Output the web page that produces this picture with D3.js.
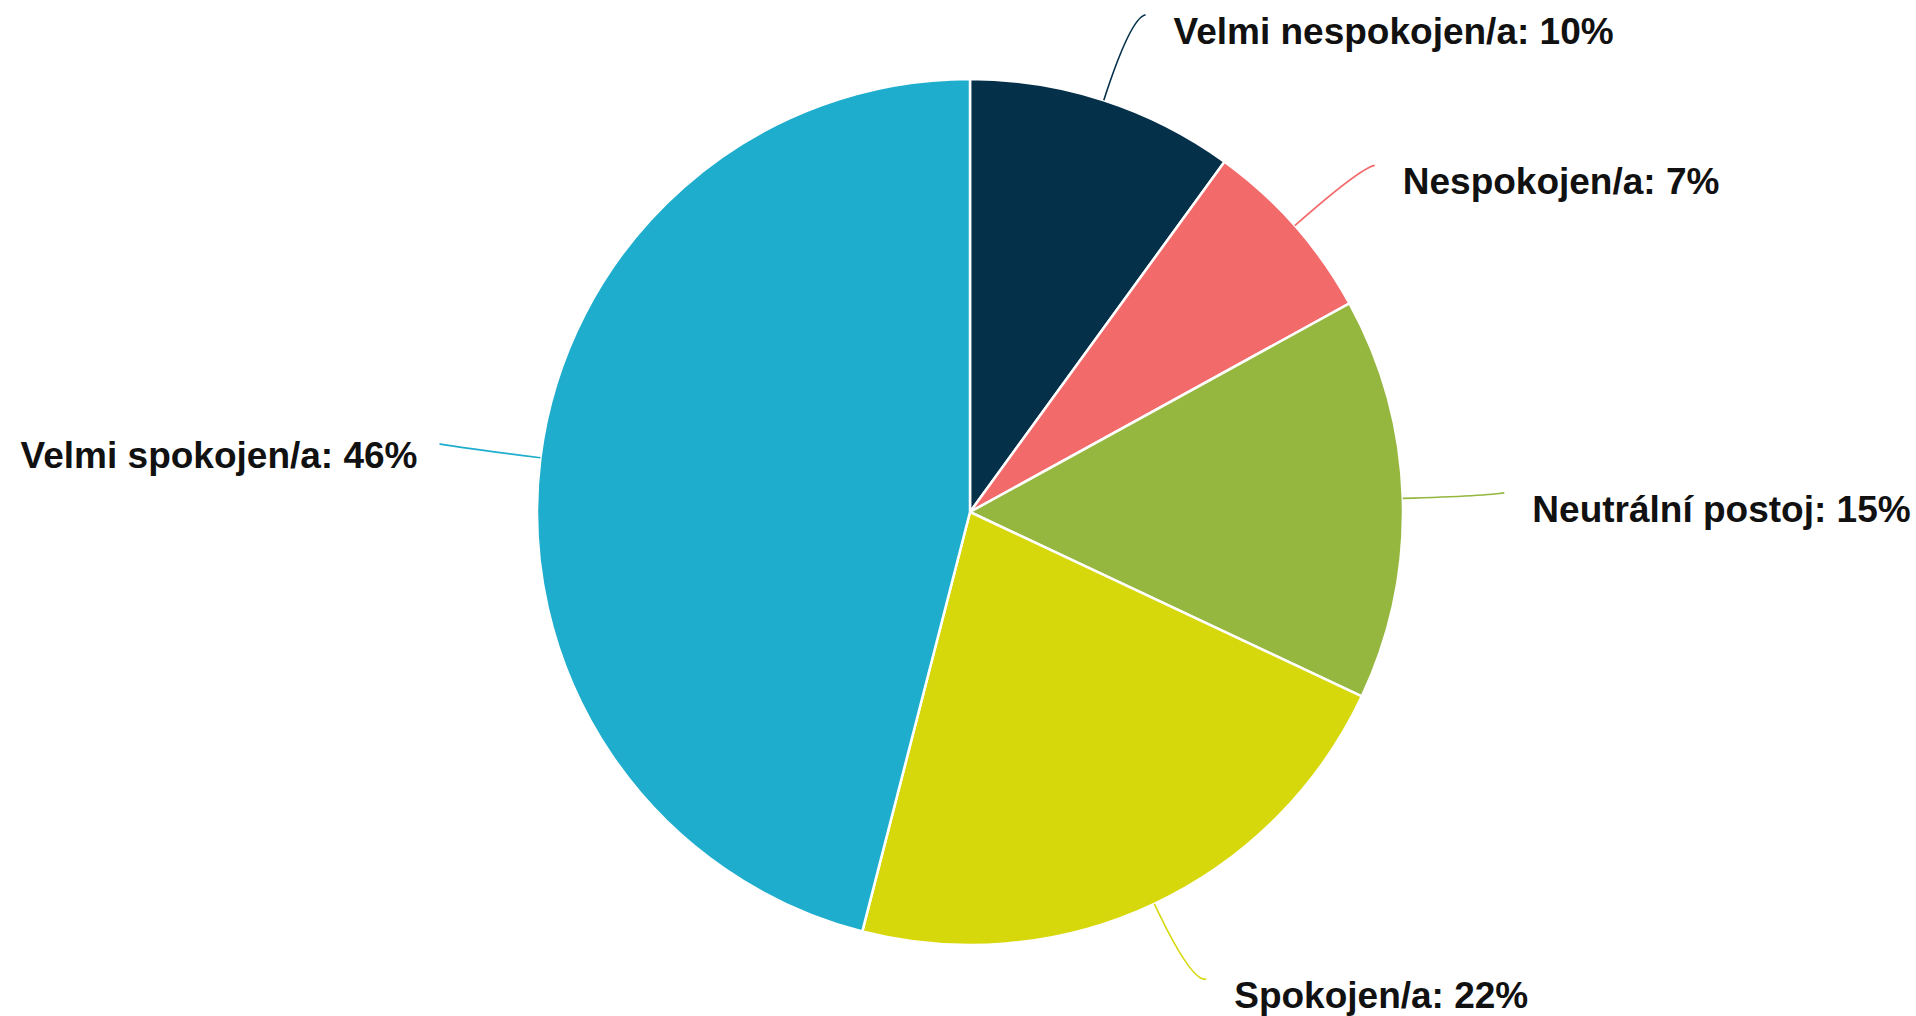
<!DOCTYPE html>
<html>
<head>
<meta charset="utf-8">
<script src="https://cdn.jsdelivr.net/npm/d3@7"></script>
<style>
  body { margin: 0; background: #fff; }
  text { font-family: "Liberation Sans", Arial, sans-serif; font-weight: bold; }
</style>
</head>
<body>
<svg id="pieSvg" width="1916" height="1016"></svg>
<script>
// chart data
var categories = ["Velmi nespokojen/a", "Nespokojen/a", "Neutrální postoj", "Spokojen/a", "Velmi spokojen/a"];
var values = [10, 7, 15, 22, 46];
var colors = ["#05304a", "#f36a6b", "#95b73f", "#d7d80c", "#1eadcd"];

var data = categories.map(function (c, i) {
  return { name: c, value: values[i] };
});

var svg = d3.select("svg#pieSvg"),
  cx = 970,
  cy = 512,
  radius = 433,
  g = svg.append("g").attr("transform", "translate(" + cx + "," + cy + ")");

var color = d3.scaleOrdinal().domain(categories).range(colors);

// keep the data order, clockwise from 12 o'clock
var pie = d3.pie().sort(null).value(function (d) { return d.value; });

var arc = d3.arc().innerRadius(0).outerRadius(radius);

var arcs = pie(data);

g.selectAll("path.slice")
  .data(arcs)
  .enter()
  .append("path")
  .attr("class", "slice")
  .attr("d", arc)
  .attr("fill", function (d) { return color(d.data.name); })
  .attr("stroke", "#fff")
  .attr("stroke-width", 2.5);

// point on a circle at given angle (d3 angles: 0 = top, clockwise)
function polar(a, r) {
  return [Math.sin(a) * r, -Math.cos(a) * r];
}
function mid(d) { return (d.startAngle + d.endAngle) / 2; }
function side(d) { return Math.sin(mid(d)) >= 0 ? 1 : -1; }

var elbowR = radius * 1.2;

// leader lines
g.selectAll("path.leader")
  .data(arcs)
  .enter()
  .append("path")
  .attr("class", "leader")
  .attr("fill", "none")
  .attr("stroke", function (d) { return color(d.data.name); })
  .attr("stroke-width", 1.6)
  .attr("d", function (d) {
    var a = mid(d);
    var p0 = polar(a, radius);
    var p1 = polar(a, elbowR);
    var p2 = [p1[0] + side(d) * 15, p1[1] - 3];
    return "M" + p0 + "Q" + p1 + " " + p2;
  });

// labels
g.selectAll("text.label")
  .data(arcs)
  .enter()
  .append("text")
  .attr("class", "label")
  .attr("font-size", 37)
  .attr("fill", "#111")
  .attr("text-anchor", function (d) { return side(d) > 0 ? "start" : "end"; })
  .attr("x", function (d) {
    return polar(mid(d), elbowR)[0] + side(d) * (side(d) > 0 ? 43 : 37);
  })
  .attr("y", function (d) { return polar(mid(d), elbowR)[1] + (side(d) > 0 ? 13 : 8); })
  .attr("dy", "0.35em")
  .text(function (d) { return d.data.name + ": " + d.data.value + "%"; });
</script>
</body>
</html>
